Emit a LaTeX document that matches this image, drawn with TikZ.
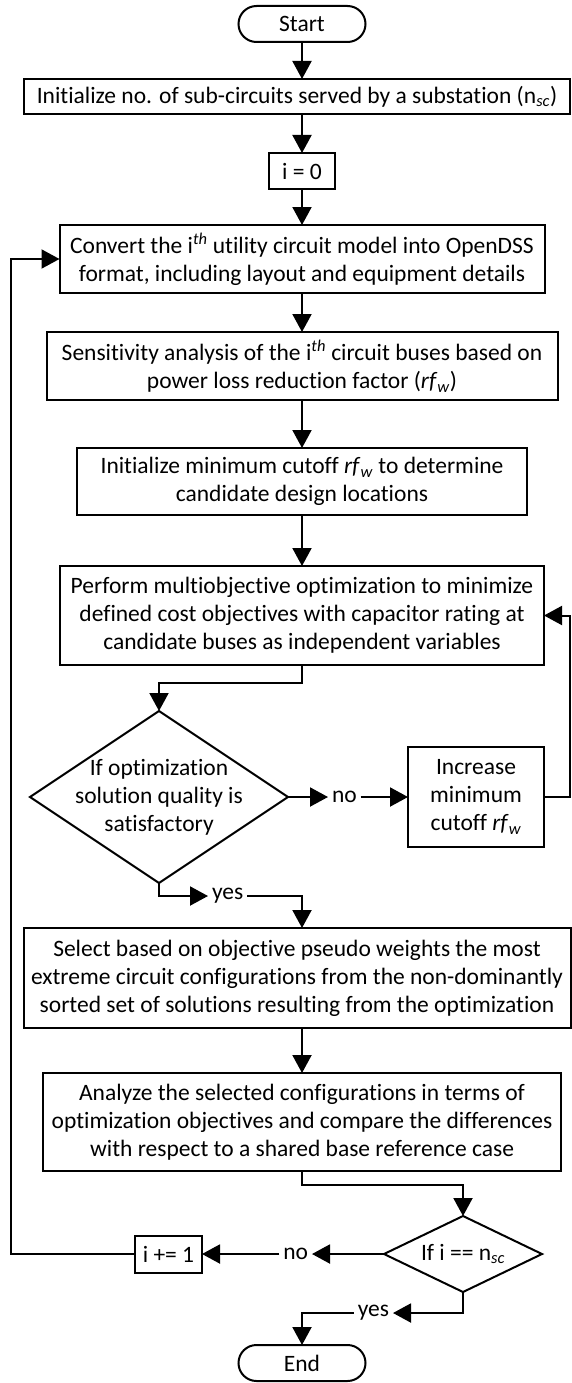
\documentclass[tikz,border=0pt]{standalone}
\usepackage{fontspec}
\setmainfont{Carlito}[Ligatures=NoCommon]
\usetikzlibrary{positioning,shapes.geometric,arrows.meta}

\begin{document}
\begin{tikzpicture}
        [x=1pt, y=-1pt, line width=2pt,
         font=\fontsize{23.5}{28}\selectfont,
         process/.style={rectangle, draw, align=center, inner sep=4pt, outer sep=0pt},
         terminal/.style={rectangle, draw, rounded corners=18pt, outer sep=0pt, minimum width=127pt, minimum height=36pt},
         decision/.style={diamond, draw, inner sep=0pt, outer sep=0pt},
         tag/.style={inner sep=3pt},
         arrow/.style={-{Triangle[length=18pt, width=19pt]}}]
        \useasboundingbox (0,0) rectangle (572,1383);
        \node (start) [terminal] at (302,24) {Start};
        \node (init) [process, below=37pt of start, xshift=-5pt, minimum width=546pt, minimum height=35pt]
            {Initialize no. of sub-circuits served by a substation (n\textsubscript{\textit{sc}})};
        \node (i0) [process, below=39pt of init, xshift=5pt, minimum width=66pt, minimum height=36pt] {i = 0};
        \node (convert) [process, below=36pt of i0, minimum width=485pt, minimum height=68pt]
            {Convert the i\textsuperscript{\textit{th}} utility circuit model into OpenDSS\\format, including layout and equipment details};
        \node (sens) [process, below=39pt of convert, minimum width=511pt, minimum height=68pt]
            {Sensitivity analysis of the i\textsuperscript{\textit{th}} circuit buses based on\\power loss reduction factor (\textit{rf}\textsubscript{\textit{w}})};
        \node (initmin) [process, below=48pt of sens, minimum width=450pt, minimum height=67pt]
            {Initialize minimum cutoff \textit{rf}\textsubscript{\textit{w}} to determine\\candidate design locations};
        \node (perform) [process, below=51pt of initmin, minimum width=484pt, minimum height=99pt]
            {Perform multiobjective optimization to minimize\\defined cost objectives with capacitor rating at\\candidate buses as independent variables};
        % decision shapes keep a fixed size, their text sits on top
        \node (dec1) [decision, below=46pt of perform, xshift=-143pt, minimum width=258pt, minimum height=172pt] {};
        \node (dec1text) [align=center, inner sep=0pt] at (dec1) {If optimization\\solution quality is\\satisfactory};
        \node (no1) [tag, right=40pt of dec1] {no};
        \node (incr) [process, right=120pt of dec1, minimum width=136pt, minimum height=100pt]
            {Increase\\minimum\\cutoff \textit{rf}\textsubscript{\textit{w}}};
        \node (yes1) [tag, anchor=west] at (208,896) {yes};
        \node (select) [process, below=45pt of dec1, xshift=138pt, minimum width=547pt, minimum height=100pt]
            {Select based on objective pseudo weights the most\\extreme circuit configurations from the non-dominantly\\sorted set of solutions resulting from the optimization};
        \node (analyze) [process, below=45pt of select, xshift=5pt, minimum width=518pt, minimum height=98pt]
            {Analyze the selected configurations in terms of\\optimization objectives and compare the differences\\with respect to a shared base reference case};
        \node (dec2) [decision, below=45pt of analyze, xshift=161pt, minimum width=158pt, minimum height=76pt] {};
        \node (dec2text) [inner sep=0pt] at (dec2) {If i == n\textsubscript{\textit{sc}}};
        \node (no2) [tag, left=72pt of dec2] {no};
        \node (inc) [process, left=182pt of dec2, minimum width=67pt, minimum height=37pt] {i += 1};
        \node (yes2) [tag, anchor=east] at (393,1313) {yes};
        \node (end) [terminal, below=53pt of dec2, xshift=-161pt] {End};
        \draw [arrow] (start) -- (init.north -| start);
        \draw [arrow] (init.south -| start) -- (i0);
        \draw [arrow] (i0) -- (convert);
        \draw [arrow] (convert) -- (sens);
        \draw [arrow] (sens) -- (initmin);
        \draw [arrow] (initmin) -- (perform);
        \draw [arrow] (perform.south) -- ++(0,18) -| (dec1.north);
        \draw [arrow] (dec1.east) -- (no1.west);
        \draw [arrow] (no1.east) -- (incr.west);
        \draw [arrow] (incr.east) -- ++(26,0) |- (perform.east);
        \draw [arrow] (dec1.south) |- (yes1.west);
        \draw [arrow] (yes1.east) -| (select.north -| start);
        \draw [arrow] (select.south -| start) -- (analyze.north -| start);
        \draw [arrow] (analyze.south -| start) -- ++(0,14) -| (dec2.north);
        \draw [arrow] (dec2.west) -- (no2.east);
        \draw [arrow] (no2.west) -- (inc.east);
        \draw [arrow] (inc.west) -- ++(-124,0) |- (convert.west);
        \draw [arrow] (dec2.south) |- (yes2.east);
        \draw [arrow] (yes2.west) -| (end.north);
    \end{tikzpicture}
\end{document}
